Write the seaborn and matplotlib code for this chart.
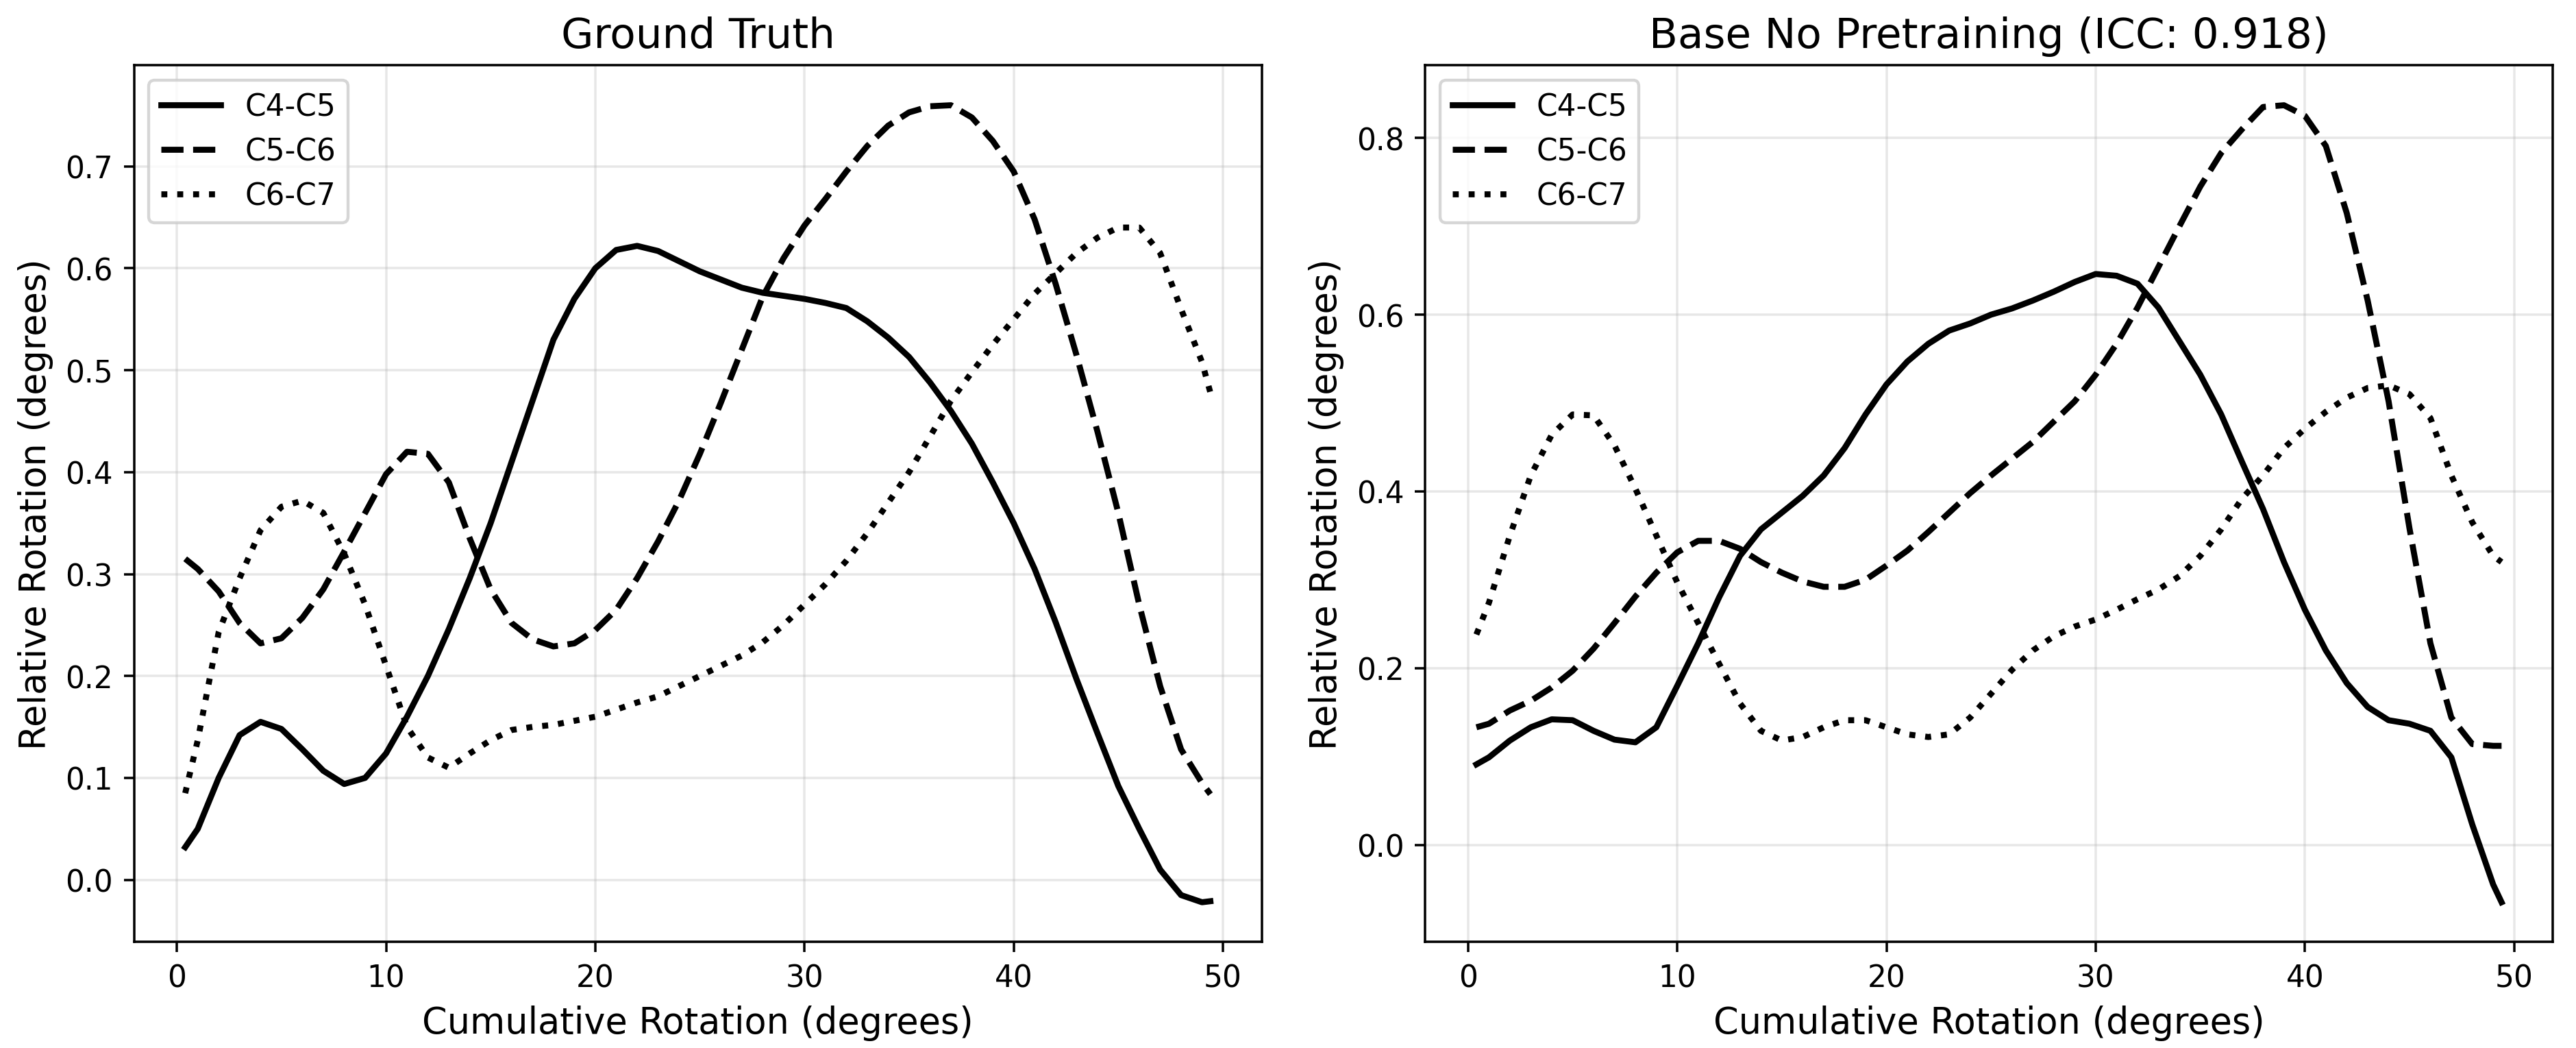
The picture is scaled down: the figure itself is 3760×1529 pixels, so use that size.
import matplotlib
matplotlib.use("Agg")
import matplotlib.pyplot as plt
import seaborn as sns

# Cumulative rotation samples (degrees)
cum_rot = [0.4, 1, 2, 3, 4, 5, 6, 7, 8, 9, 10, 11, 12, 13, 14, 15, 16, 17, 18, 19,
           20, 21, 22, 23, 24, 25, 26, 27, 28, 29, 30, 31, 32, 33, 34, 35, 36, 37, 38, 39,
           40, 41, 42, 43, 44, 45, 46, 47, 48, 49, 49.4]

# --- Ground truth ---
gt_c4c5 = [0.032, 0.05, 0.10, 0.142, 0.155, 0.148, 0.128, 0.107, 0.094, 0.100,
           0.124, 0.16, 0.20, 0.246, 0.296, 0.35, 0.41, 0.47, 0.53, 0.57,
           0.60, 0.618, 0.622, 0.617, 0.607, 0.597, 0.589, 0.581, 0.576, 0.573,
           0.570, 0.566, 0.561, 0.548, 0.532, 0.513, 0.488, 0.46, 0.428, 0.39,
           0.35, 0.305, 0.253, 0.197, 0.144, 0.092, 0.05, 0.01, -0.015, -0.022, -0.021]
gt_c5c6 = [0.315, 0.305, 0.283, 0.252, 0.232, 0.237, 0.257, 0.285, 0.322, 0.36,
           0.398, 0.42, 0.418, 0.39, 0.335, 0.285, 0.252, 0.236, 0.229, 0.232,
           0.245, 0.265, 0.296, 0.332, 0.372, 0.418, 0.468, 0.52, 0.572, 0.61,
           0.642, 0.668, 0.695, 0.72, 0.74, 0.753, 0.759, 0.76, 0.748, 0.725,
           0.695, 0.648, 0.585, 0.515, 0.44, 0.36, 0.27, 0.19, 0.128, 0.095, 0.084]
gt_c6c7 = [0.085, 0.137, 0.243, 0.296, 0.343, 0.366, 0.372, 0.36, 0.32, 0.27,
           0.21, 0.15, 0.12, 0.11, 0.124, 0.137, 0.147, 0.15, 0.152, 0.156,
           0.16, 0.167, 0.174, 0.18, 0.19, 0.20, 0.21, 0.22, 0.233, 0.25,
           0.27, 0.29, 0.313, 0.34, 0.37, 0.40, 0.435, 0.47, 0.498, 0.525,
           0.55, 0.575, 0.595, 0.615, 0.63, 0.64, 0.64, 0.615, 0.56, 0.508, 0.478]

# --- Base model, no pretraining ---
base_c4c5 = [0.091, 0.099, 0.118, 0.133, 0.142, 0.141, 0.129, 0.119, 0.116, 0.133,
             0.18, 0.228, 0.28, 0.327, 0.357, 0.376, 0.395, 0.418, 0.449, 0.487,
             0.521, 0.547, 0.567, 0.582, 0.59, 0.60, 0.607, 0.616, 0.626, 0.637,
             0.646, 0.644, 0.635, 0.608, 0.57, 0.532, 0.487, 0.433, 0.38, 0.32,
             0.266, 0.22, 0.183, 0.156, 0.141, 0.137, 0.129, 0.099, 0.023, -0.045, -0.065]
base_c5c6 = [0.133, 0.137, 0.152, 0.163, 0.178, 0.197, 0.222, 0.251, 0.281, 0.308,
             0.331, 0.344, 0.344, 0.335, 0.32, 0.308, 0.298, 0.292, 0.292, 0.30,
             0.316, 0.333, 0.354, 0.376, 0.398, 0.418, 0.437, 0.456, 0.479, 0.502,
             0.532, 0.567, 0.608, 0.654, 0.70, 0.745, 0.783, 0.81, 0.835, 0.837,
             0.825, 0.791, 0.715, 0.616, 0.502, 0.358, 0.228, 0.144, 0.114, 0.112, 0.112]
base_c6c7 = [0.238, 0.274, 0.35, 0.418, 0.464, 0.487, 0.486, 0.452, 0.403, 0.35,
             0.297, 0.251, 0.205, 0.16, 0.129, 0.118, 0.122, 0.133, 0.141, 0.141,
             0.133, 0.125, 0.122, 0.125, 0.144, 0.171, 0.198, 0.22, 0.236, 0.247,
             0.255, 0.266, 0.278, 0.289, 0.304, 0.327, 0.357, 0.392, 0.418, 0.449,
             0.471, 0.49, 0.506, 0.517, 0.52, 0.51, 0.483, 0.418, 0.365, 0.327, 0.32]

levels = ["C4-C5", "C5-C6", "C6-C7"]
styles = ["-", "--", ":"]
panels = [
    ("Ground Truth", [gt_c4c5, gt_c5c6, gt_c6c7]),
    ("Base No Pretraining (ICC: 0.918)", [base_c4c5, base_c5c6, base_c6c7]),
]

DPI = 315
fig, axes = plt.subplots(1, 2, figsize=(3760 / DPI, 1530 / DPI), dpi=DPI)
fig.subplots_adjust(left=0.052, right=0.991, bottom=0.101, top=0.937, wspace=0.145)

for ax, (title, series) in zip(axes, panels):
    for vals, name, ls in zip(series, levels, styles):
        sns.lineplot(x=cum_rot, y=vals, ax=ax, color="black", linewidth=2,
                     linestyle=ls, label=name)
    ax.set_title(title, fontsize=14)
    ax.set_xlabel("Cumulative Rotation (degrees)", fontsize=12)
    ax.set_ylabel("Relative Rotation (degrees)", fontsize=12)
    ax.tick_params(labelsize=10)
    ax.grid(True, alpha=0.3)
    ax.legend(loc="upper left", fontsize=10)

plt.savefig("out.png", dpi=DPI)
